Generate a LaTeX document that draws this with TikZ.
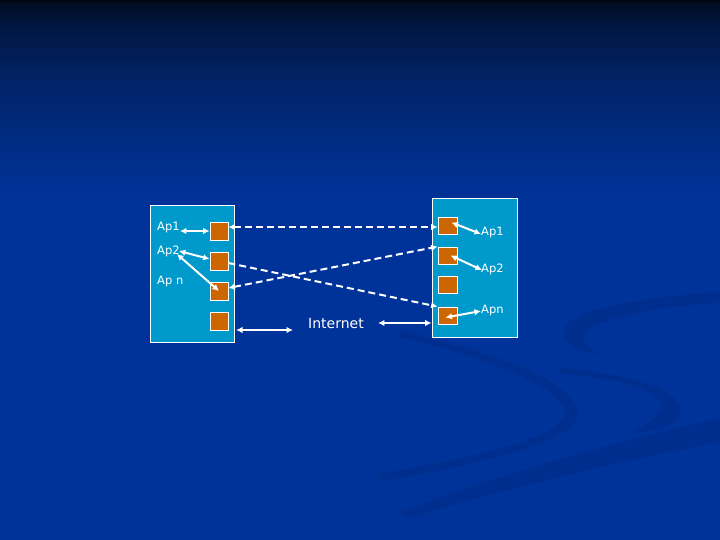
\documentclass[tikz,border=0pt]{standalone}
\usepackage{fontspec}
\setmainfont{DejaVu Sans}
\usetikzlibrary{arrows.meta,calc}
\definecolor{bgblue}{RGB}{0,51,153}
\definecolor{bgtop}{RGB}{2,6,16}
\definecolor{swoosh}{RGB}{0,32,112}
\definecolor{boxblue}{RGB}{0,153,204}
\definecolor{portorange}{RGB}{204,102,0}
\tikzset{
  hostbox/.style={draw=white, line width=0.8pt, fill=boxblue, inner sep=0pt},
  port/.style={draw=white, line width=0.8pt, fill=portorange, inner sep=0pt, minimum width=18pt, minimum height=18pt},
  lab/.style={text=white, font=\fontsize{11.5}{12}\selectfont, inner sep=0pt, anchor=west},
  link/.style={draw=white, line width=2pt, {Latex[length=6.5pt,width=6.5pt]}-{Latex[length=6.5pt,width=6.5pt]}},
  dlink/.style={draw=white, line width=2pt, dash pattern=on 7pt off 4pt},
  both/.style={{Latex[length=6.5pt,width=6.5pt]}-{Latex[length=6.5pt,width=6.5pt]}},
  tip/.style={-{Latex[length=6.5pt,width=6.5pt]}}
}
\begin{document}
\begin{tikzpicture}[x=1pt,y=-1pt]
\useasboundingbox (0,0) rectangle (720,540);
% background
\fill[bgblue] (0,0) rectangle (720,540);
\foreach \i in {0,2,...,198} {
  \pgfmathtruncatemacro\p{100*sqrt(\i/200)}
  \fill[bgblue!\p!bgtop] (0,\i) rectangle (720,\i+2.6);
}
% subtle swooshes
\begin{scope}[fill=swoosh, opacity=0.22]
  \fill (720,292) .. controls (630,298) and (562,312) .. (563,333)
        .. controls (564,345) and (580,352) .. (600,354)
        .. controls (585,346) and (578,338) .. (590,328)
        .. controls (620,312) and (680,305) .. (720,303) -- cycle;
  \fill (400,330) .. controls (480,350) and (580,380) .. (578,415)
        .. controls (575,440) and (500,460) .. (380,482)
        -- (380,474) .. controls (500,452) and (560,435) .. (565,415)
        .. controls (568,388) and (480,356) .. (400,337) -- cycle;
  \fill (560,368) .. controls (640,374) and (686,394) .. (680,413)
        .. controls (676,428) and (650,433) .. (628,433)
        .. controls (650,424) and (664,414) .. (660,402)
        .. controls (652,388) and (610,378) .. (560,373) -- cycle;
  \fill (720,418) .. controls (600,445) and (500,475) .. (400,512)
        -- (410,518) .. controls (520,484) and (620,462) .. (720,442) -- cycle;
\end{scope}
% host boxes
\node[hostbox, minimum width=84pt, minimum height=137pt] (L) at (192,273.5) {};
\node[hostbox, minimum width=85pt, minimum height=139pt] (R) at (474.5,267.5) {};
% ports
\node[port] (l1) at (219,231) {};
\node[port] (l2) at (219,261) {};
\node[port] (l3) at (219,291) {};
\node[port] (l4) at (219,321) {};
\node[port, minimum width=19pt, minimum height=17pt] (r1) at (447.5,225.5) {};
\node[port, minimum width=19pt, minimum height=17pt] (r2) at (447.5,255.5) {};
\node[port, minimum width=19pt, minimum height=17pt] (r3) at (447.5,284.5) {};
\node[port, minimum width=19pt, minimum height=17pt] (r4) at (447.5,315.5) {};
% labels
\node[lab] (la1) at (157,228) {Ap1};
\node[lab] (la2) at (157,251) {Ap2};
\node[lab] (lan) at (157,282) {Ap n};
\node[lab] (ra1) at (481,233) {Ap1};
\node[lab] (ra2) at (481,269) {Ap2};
\node[lab] (ran) at (481,311) {Apn};
\node[text=white, font=\fontsize{14}{15}\selectfont, inner sep=0pt] (inet) at (336,323) {Internet};
% local links
\draw[link] ([yshift=-3pt]la1.east) -- (l1.west);
\draw[link] ([xshift=-1pt]la2.east) -- ([yshift=2pt]l2.west);
\draw[link] ([xshift=-3pt,yshift=-3pt]la2.east) -- (l3.center);
\draw[link] ([xshift=4pt,yshift=3pt]r1.center) -- ([yshift=-1pt]ra1.west);
\draw[link] ([xshift=3pt]r2.center) -- ([xshift=1pt,yshift=-1pt]ra2.west);
\draw[link] ([xshift=-2pt,yshift=-2pt]r4.center) -- (ran.west);
% tunnels
\draw[dlink, both] ([yshift=4pt]l1.east) -- ([yshift=-1.5pt]r1.west);
\draw[dlink, tip] ([yshift=-2pt]l2.east) -- (r4.north west);
\draw[dlink, both] ([yshift=3pt]l3.east) -- (r2.north west);
% internet
\coordinate (b1) at (236,330);
\coordinate (b2) at (293,330);
\draw[link] (b1) -- (b2);
\draw[link, shorten <=14pt] (inet.east) -- (inet.east -| R.west);
\end{tikzpicture}
\end{document}
